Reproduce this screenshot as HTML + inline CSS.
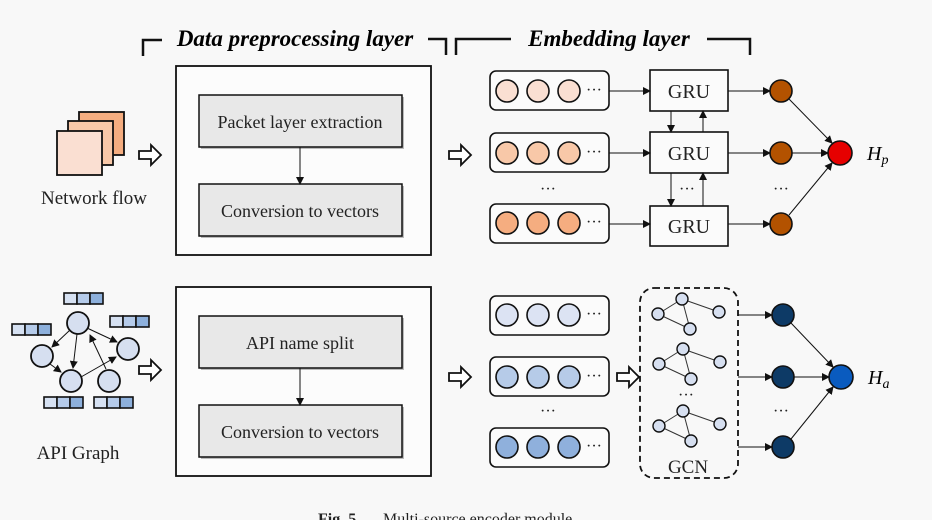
<!DOCTYPE html>
<html><head><meta charset="utf-8"><style>body{margin:0;background:#f8f8f8}svg{display:block}</style></head>
<body>
<svg width="932" height="520" viewBox="0 0 932 520" xmlns="http://www.w3.org/2000/svg" font-family="Liberation Serif, serif">
<defs>
<marker id="a" markerWidth="8" markerHeight="8" refX="7" refY="4" orient="auto" markerUnits="userSpaceOnUse"><path d="M0,0 L8,4 L0,8 z" fill="#111"/></marker>
<g id="ha"><path d="M0,-4 H12 V-10 L22,0 L12,10 V4 H0 z" fill="#fff" stroke="#111" stroke-width="1.8"/></g>
</defs>
<rect width="932" height="520" fill="#f8f8f8"/>
<g stroke="#111" stroke-width="2.5" fill="none">
<path d="M143,56 V40 H162"/><path d="M428,39 H446 V55"/><path d="M456,55 V39 H511"/><path d="M707,39 H750 V55"/>
</g>
<text x="295" y="46" font-size="23" font-weight="bold" font-style="italic" text-anchor="middle">Data preprocessing layer</text>
<text x="609" y="46" font-size="23" font-weight="bold" font-style="italic" text-anchor="middle">Embedding layer</text>

<rect x="176" y="66" width="255" height="189" fill="#fcfcfc" stroke="#111" stroke-width="1.8"/>
<rect x="176" y="287" width="255" height="189" fill="#fcfcfc" stroke="#111" stroke-width="1.8"/>
<g stroke="#111" stroke-width="1.5">
<rect x="201" y="97" width="203" height="52" fill="#bbb" stroke="none"/>
<rect x="199" y="95" width="203" height="52" fill="#e8e8e8"/>
<rect x="201" y="186" width="203" height="52" fill="#bbb" stroke="none"/>
<rect x="199" y="184" width="203" height="52" fill="#e8e8e8"/>
<rect x="201" y="318" width="203" height="52" fill="#bbb" stroke="none"/>
<rect x="199" y="316" width="203" height="52" fill="#e8e8e8"/>
<rect x="201" y="407" width="203" height="52" fill="#bbb" stroke="none"/>
<rect x="199" y="405" width="203" height="52" fill="#e8e8e8"/>
<line x1="300" y1="147" x2="300" y2="184" stroke-width="1" marker-end="url(#a)"/>
<line x1="300" y1="368" x2="300" y2="405" stroke-width="1" marker-end="url(#a)"/>
</g>
<g font-size="18" text-anchor="middle" fill="#222">
<text x="300" y="128">Packet layer extraction</text>
<text x="300" y="217">Conversion to vectors</text>
<text x="300" y="349">API name split</text>
<text x="300" y="438">Conversion to vectors</text>
</g>
<g font-size="19" text-anchor="middle" fill="#222">
<text x="94" y="204">Network flow</text>
<text x="78" y="459">API Graph</text>
</g>

<g stroke="#111" stroke-width="1.8">
<rect x="79" y="112" width="45" height="43" fill="#f5ad80"/>
<rect x="68" y="121" width="45" height="44" fill="#f8c8a8"/>
<rect x="57" y="131" width="45" height="44" fill="#fadfd2"/>
</g>
<use href="#ha" x="139" y="155"/><use href="#ha" x="449" y="155"/>
<use href="#ha" x="139" y="370"/><use href="#ha" x="449" y="377"/><use href="#ha" x="617" y="377"/>

<g stroke="#111" stroke-width="1" marker-end="url(#a)">
<line x1="70" y1="330" x2="52" y2="347"/>
<line x1="77" y1="334" x2="73" y2="368"/>
<line x1="87" y1="328" x2="117" y2="342"/>
<line x1="50" y1="364" x2="61" y2="372"/>
<line x1="81" y1="377" x2="116" y2="357"/>
<line x1="106" y1="369" x2="90" y2="335"/>
</g>
<g stroke="#111" stroke-width="1.8" fill="#d6dff0">
<circle cx="78" cy="323" r="11"/><circle cx="42" cy="356" r="11"/><circle cx="71" cy="381" r="11"/><circle cx="109" cy="381" r="11"/><circle cx="128" cy="349" r="11"/>
</g>
<g id="bar" stroke="#111" stroke-width="1.6">
<rect x="64" y="293" width="13" height="11" fill="#d6e1f2"/><rect x="77" y="293" width="13" height="11" fill="#b5cbea"/><rect x="90" y="293" width="13" height="11" fill="#8db0dc"/>
</g>
<use href="#bar" x="-52" y="31"/><use href="#bar" x="46" y="23"/><use href="#bar" x="-20" y="104"/><use href="#bar" x="30" y="104"/>

<g stroke="#111" stroke-width="1.6">
<rect x="490" y="71" width="119" height="39" rx="6" fill="#fbfbfb"/>
<rect x="490" y="133" width="119" height="39" rx="6" fill="#fbfbfb"/>
<rect x="490" y="204" width="119" height="39" rx="6" fill="#fbfbfb"/>
<rect x="490" y="296" width="119" height="39" rx="6" fill="#fbfbfb"/>
<rect x="490" y="357" width="119" height="39" rx="6" fill="#fbfbfb"/>
<rect x="490" y="428" width="119" height="39" rx="6" fill="#fbfbfb"/>
<g fill="#fadfd2"><circle cx="507" cy="91" r="11"/><circle cx="538" cy="91" r="11"/><circle cx="569" cy="91" r="11"/></g>
<g fill="#f8c8a8"><circle cx="507" cy="153" r="11"/><circle cx="538" cy="153" r="11"/><circle cx="569" cy="153" r="11"/></g>
<g fill="#f5ad80"><circle cx="507" cy="223" r="11"/><circle cx="538" cy="223" r="11"/><circle cx="569" cy="223" r="11"/></g>
<g fill="#dce3f3"><circle cx="507" cy="315" r="11"/><circle cx="538" cy="315" r="11"/><circle cx="569" cy="315" r="11"/></g>
<g fill="#b6cbe8"><circle cx="507" cy="377" r="11"/><circle cx="538" cy="377" r="11"/><circle cx="569" cy="377" r="11"/></g>
<g fill="#8fb0dc"><circle cx="507" cy="447" r="11"/><circle cx="538" cy="447" r="11"/><circle cx="569" cy="447" r="11"/></g>
</g>
<g font-size="16" fill="#222">
<text x="586" y="95">···</text><text x="586" y="157">···</text><text x="586" y="227">···</text>
<text x="586" y="319">···</text><text x="586" y="381">···</text><text x="586" y="451">···</text>
<text x="540" y="194">···</text><text x="540" y="416">···</text>
<text x="679" y="194">···</text><text x="773" y="194">···</text><text x="773" y="416">···</text><text x="678" y="400">···</text>
</g>

<g stroke="#111" stroke-width="1.6" fill="#fbfbfb">
<rect x="650" y="70" width="78" height="41"/><rect x="650" y="132" width="78" height="41"/><rect x="650" y="206" width="78" height="40"/>
</g>
<g font-size="20" text-anchor="middle" fill="#222">
<text x="689" y="98">GRU</text><text x="689" y="160">GRU</text><text x="689" y="233">GRU</text>
</g>
<g stroke="#111" stroke-width="1" marker-end="url(#a)">
<line x1="609" y1="91" x2="650" y2="91"/><line x1="609" y1="153" x2="650" y2="153"/><line x1="609" y1="224" x2="650" y2="224"/>
<line x1="671" y1="111" x2="671" y2="132"/><line x1="703" y1="132" x2="703" y2="111"/>
<line x1="671" y1="173" x2="671" y2="206"/><line x1="703" y1="206" x2="703" y2="173"/>
<line x1="728" y1="91" x2="770" y2="91"/><line x1="728" y1="153" x2="770" y2="153"/><line x1="728" y1="224" x2="770" y2="224"/>
<line x1="791" y1="153" x2="828" y2="153"/><line x1="789" y1="99" x2="832" y2="143"/><line x1="789" y1="215" x2="832" y2="163"/>
<line x1="738" y1="315" x2="772" y2="315"/><line x1="738" y1="377" x2="772" y2="377"/><line x1="738" y1="447" x2="772" y2="447"/>
<line x1="794" y1="377" x2="829" y2="377"/><line x1="791" y1="323" x2="833" y2="367"/><line x1="791" y1="439" x2="833" y2="387"/>
</g>
<g stroke="#111" stroke-width="1.6">
<circle cx="781" cy="91" r="11" fill="#b35200"/><circle cx="781" cy="153" r="11" fill="#b35200"/><circle cx="781" cy="224" r="11" fill="#b35200"/>
<circle cx="840" cy="153" r="12" fill="#e60000"/>
<circle cx="783" cy="315" r="11" fill="#0d3a66"/><circle cx="783" cy="377" r="11" fill="#0d3a66"/><circle cx="783" cy="447" r="11" fill="#0d3a66"/>
<circle cx="841" cy="377" r="12" fill="#0a5bbf"/>
</g>
<text x="867" y="160" font-size="20" font-style="italic">H<tspan font-size="14" dy="4">p</tspan></text>
<text x="868" y="384" font-size="20" font-style="italic">H<tspan font-size="14" dy="4">a</tspan></text>

<rect x="640" y="288" width="98" height="190" rx="14" fill="none" stroke="#111" stroke-width="1.8" stroke-dasharray="6,4"/>
<g id="g1" stroke="#333" stroke-width="1">
<line x1="682" y1="299" x2="658" y2="314"/><line x1="682" y1="299" x2="719" y2="312"/><line x1="682" y1="299" x2="690" y2="329"/><line x1="658" y1="314" x2="690" y2="329"/>
<g stroke="#111" stroke-width="1.4" fill="#d6dff0"><circle cx="682" cy="299" r="6"/><circle cx="658" cy="314" r="6"/><circle cx="719" cy="312" r="6"/><circle cx="690" cy="329" r="6"/></g>
</g>
<use href="#g1" x="1" y="50"/><use href="#g1" x="1" y="112"/>
<text x="688" y="473" font-size="19" text-anchor="middle" fill="#222">GCN</text>

<text x="318" y="524" font-size="16" font-weight="bold" fill="#222">Fig. 5.</text>
<text x="383" y="524" font-size="16" fill="#222">Multi-source encoder module</text>
</svg>
</body></html>
